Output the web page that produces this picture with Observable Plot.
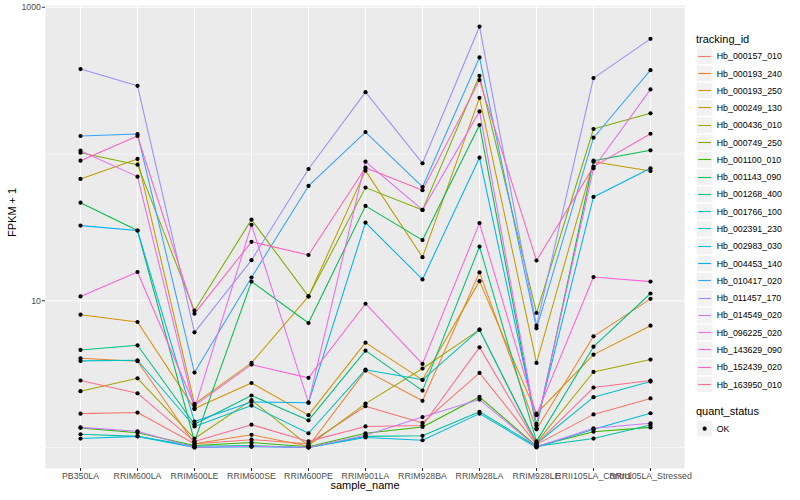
<!DOCTYPE html>
<html><head><meta charset="utf-8">
<script src="https://cdn.jsdelivr.net/npm/d3@7"></script>
<script src="https://cdn.jsdelivr.net/npm/@observablehq/plot@0.6"></script>
<style>
body{margin:0;background:#fff;font-family:"Liberation Sans",Arial,sans-serif;}
#wrap{position:relative;width:800px;height:500px;overflow:hidden;}
</style></head><body><div id="wrap"></div>
<script>
const samples = ["PB350LA","RRIM600LA","RRIM600LE","RRIM600SE","RRIM600PE","RRIM901LA","RRIM928BA","RRIM928LA","RRIM928LE","RRII105LA_Control","RRII105LA_Stressed"];
const ids = ["Hb_000157_010","Hb_000193_240","Hb_000193_250","Hb_000249_130","Hb_000436_010","Hb_000749_250","Hb_001100_010","Hb_001143_090","Hb_001268_400","Hb_001766_100","Hb_002391_230","Hb_002983_030","Hb_004453_140","Hb_010417_020","Hb_011457_170","Hb_014549_020","Hb_096225_020","Hb_143629_090","Hb_152439_020","Hb_163950_010"];
const colors = ["#F8766D","#EA8331","#D89000","#C09B00","#A3A500","#7CAE00","#39B600","#00BB4E","#00BF7D","#00C1A3","#00BFC4","#00BAE0","#00B0F6","#35A2FF","#9590FF","#C77CFF","#E76BF3","#FA62DB","#FF62BC","#FF6C90"];
const yBreaks = [10, 1000];
const yMinor = [1, 100];
const yTitle = "FPKM + 1";
const xTitle = "sample_name";
const colorTitle = "tracking_id";
const shapeTitle = "quant_status";
const shapeLevel = "OK";

// FPKM + 1 per sample, one array per tracking_id
const hb000157_010 = [1.70, 1.73, 1.06, 1.13, 1.06, 1.91, 1.47, 3.22, 1.05, 1.68, 2.16];
const hb000193_240 = [4.05, 3.87, 1.06, 1.22, 1.02, 3.34, 2.08, 15.6, 1.33, 5.72, 10.3];
const hb000193_250 = [8.03, 7.16, 1.84, 2.75, 1.66, 5.18, 2.89, 13.6, 1.70, 4.29, 6.76];
const hb000249_130 = [67.6, 92.5, 1.98, 3.77, 10.7, 77.0, 19.8, 241.5, 3.77, 88.6, 76.6];
const hb000436_010 = [2.42, 2.96, 1.15, 2.10, 1.03, 1.99, 3.45, 6.35, 1.08, 3.27, 3.97];
const hb000749_250 = [102.0, 84.6, 8.55, 35.7, 10.7, 59.0, 41.6, 341, 8.25, 148, 189.2];
const hb001100_010 = [1.36, 1.26, 1.03, 1.08, 1.01, 1.25, 1.38, 2.21, 1.02, 1.28, 1.37];
const hb001143_090 = [46.6, 30.1, 1.10, 13.5, 7.05, 44.3, 25.9, 157.5, 1.35, 90.0, 106.0];
const hb001268_400 = [4.62, 4.97, 1.44, 2.26, 1.53, 4.57, 2.44, 23.4, 1.10, 4.86, 11.2];
const hb001766_100 = [1.23, 1.19, 1.02, 1.03, 1.00, 1.19, 1.20, 1.75, 1.02, 1.15, 1.42];
const hb002391_230 = [3.89, 3.93, 1.39, 1.93, 1.25, 3.39, 2.89, 6.35, 1.06, 2.20, 2.81];
const hb002983_030 = [1.15, 1.19, 1.00, 1.01, 1.00, 1.17, 1.12, 1.70, 1.00, 1.33, 1.71];
const hb004453_140 = [32.5, 30.1, 1.50, 2.04, 2.02, 34.1, 13.96, 94.4, 1.45, 51.0, 79.9];
const hb010417_020 = [132.6, 136.8, 3.24, 14.4, 60.6, 141.1, 59.6, 454.9, 6.48, 129.1, 372.8];
const hb011457_170 = [379, 291.5, 6.09, 18.9, 79.0, 264, 86.4, 739, 6.76, 329, 609];
const hb014549_020 = [1.37, 1.29, 1.00, 1.02, 1.00, 1.21, 1.61, 2.12, 1.01, 1.35, 1.46];
const hb096225_020 = [105.3, 70.1, 1.83, 32.9, 2.02, 88.6, 41.6, 195.2, 1.41, 79.9, 275.5];
const hb143629_090 = [10.7, 15.7, 1.93, 3.67, 2.98, 9.54, 3.71, 33.8, 1.66, 14.5, 13.5];
const hb152439_020 = [90.0, 132.6, 8.16, 25.2, 20.5, 80.7, 56.6, 318.8, 18.8, 82.0, 137.4];
const hb163950_010 = [2.86, 2.34, 1.10, 1.43, 1.10, 1.39, 1.41, 4.81, 1.06, 2.56, 2.86];

const series = [hb000157_010,hb000193_240,hb000193_250,hb000249_130,hb000436_010,hb000749_250,hb001100_010,hb001143_090,hb001268_400,hb001766_100,hb002391_230,hb002983_030,hb004453_140,hb010417_020,hb011457_170,hb014549_020,hb096225_020,hb143629_090,hb152439_020,hb163950_010];

const data = series.flatMap((vals, k) => vals.map((v, i) => ({id: ids[k], sample: samples[i], value: v, status: shapeLevel})));
const ext = d3.extent(data, d => Math.log10(d.value));
const pad = (ext[1] - ext[0]) * 0.05;
const yDomain = [10 ** (ext[0] - pad), 10 ** (ext[1] + pad)];

const font = '"Liberation Sans", Arial, Helvetica, sans-serif';
const chart = Plot.plot({
  width: 800, height: 500,
  marginLeft: 45, marginRight: 116, marginTop: 5, marginBottom: 32,
  style: {fontFamily: font, background: "white", overflow: "visible"},
  x: {type: "point", domain: samples, padding: 0.6, axis: null},
  y: {type: "log", domain: yDomain, axis: null},
  color: {domain: ids, range: colors},
  marks: [
    Plot.frame({fill: "#EBEBEB", stroke: "none"}),
    Plot.ruleY(yMinor, {stroke: "white", strokeWidth: 0.55}),
    Plot.ruleY(yBreaks, {stroke: "white", strokeWidth: 1.1}),
    Plot.ruleX(samples, {stroke: "white", strokeWidth: 1.1}),
    Plot.line(data, {x: "sample", y: "value", z: "id", stroke: "id", strokeWidth: 1.05}),
    Plot.dot(data, {x: "sample", y: "value", r: 2.1, fill: "black", stroke: "none"}),
    Plot.axisY({ticks: yBreaks, tickFormat: d => String(d), tickSize: 3, tickPadding: 1.5, fontSize: 8.8, stroke: "#333333", fill: "#4D4D4D", label: null}),
    Plot.axisX({tickSize: 3, tickPadding: 1.5, fontSize: 8.8, stroke: "#333333", fill: "#4D4D4D", label: null}),
    Plot.text([yTitle], {text: d => d, frameAnchor: "left", dx: -33, rotate: -90, fontSize: 11, fill: "black"}),
    Plot.text([xTitle], {text: d => d, frameAnchor: "bottom", dy: 20, fontSize: 11, fill: "black"})
  ]
});
chart.style.position = "absolute";
chart.style.left = "0px";
chart.style.top = "0px";
const wrap = document.getElementById("wrap");
wrap.appendChild(chart);

// legend (ggplot style), right side
const leg = d3.create("svg").attr("width", 800).attr("height", 500)
  .style("position", "absolute").style("left", "0px").style("top", "0px")
  .attr("font-family", font);
const lx = 696.5, ly0 = 48, key = 17.28;
leg.append("text").attr("x", lx - 0.5).attr("y", 43).attr("font-size", 11).attr("fill", "black").text(colorTitle);
ids.forEach((id, k) => {
  const y = ly0 + k * key;
  const cy = Math.round(y + key / 2) - 0.5;
  leg.append("rect").attr("x", lx).attr("y", y).attr("width", key - 1).attr("height", key - 1).attr("fill", "#F2F2F2").attr("stroke", "white").attr("stroke-width", 0.6);
  leg.append("line").attr("x1", lx + 1.7).attr("x2", lx + key - 2.7).attr("y1", cy).attr("y2", cy).attr("stroke", colors[k]).attr("stroke-width", 1.1);
  leg.append("text").attr("x", lx + key + 3).attr("y", y + key / 2 - 0.5).attr("dy", "0.35em").attr("font-size", 8.8).attr("fill", "black").text(id);
});
leg.append("text").attr("x", lx - 0.5).attr("y", 415).attr("font-size", 11).attr("fill", "black").text(shapeTitle);
const oy = 420.5;
leg.append("rect").attr("x", lx).attr("y", oy).attr("width", key - 1).attr("height", key - 1).attr("fill", "#F2F2F2").attr("stroke", "white").attr("stroke-width", 0.6);
leg.append("circle").attr("cx", lx + (key - 1) / 2).attr("cy", oy + (key - 1) / 2).attr("r", 2.1).attr("fill", "black");
leg.append("text").attr("x", lx + key + 3).attr("y", oy + (key - 1) / 2).attr("dy", "0.35em").attr("font-size", 8.8).attr("fill", "black").text(shapeLevel);
wrap.appendChild(leg.node());
</script></body></html>
